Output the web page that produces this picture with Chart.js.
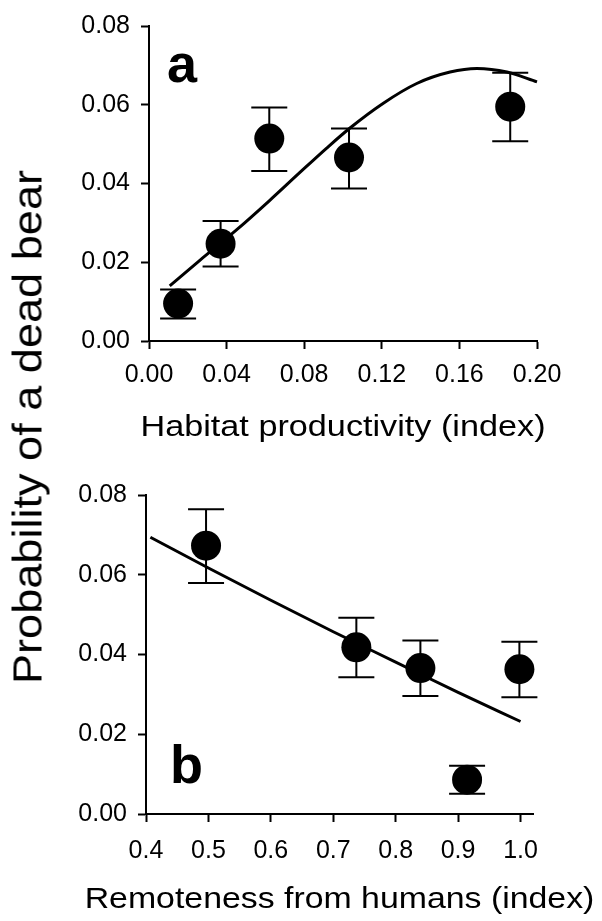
<!DOCTYPE html>
<html lang="en">
<head>
  <meta charset="UTF-8">
  <title>Probability of a dead bear</title>
  <script src="https://cdn.jsdelivr.net/npm/chart.js"></script>
  <style>
    body { margin: 0; background: #fff; font-family: "Liberation Sans", Arial, sans-serif; }
    #wrap { position: relative; width: 602px; height: 921px; overflow: hidden; }
    canvas { position: absolute; left: 0; }
    #chartA { top: 0; }
    #chartB { top: 460px; }
    #ytitle {
      position: absolute; left: 28px; top: 427px;
      font-size: 41px; line-height: 1; white-space: nowrap; color: #000;
      transform: translate(-50%, -50%) rotate(-90deg) scaleX(1.1);
    }
  </style>
</head>
<body>
<div id="wrap">
  <canvas id="chartA" width="602" height="460"></canvas>
  <canvas id="chartB" width="602" height="461"></canvas>
  <div id="ytitle">Probability of a dead bear</div>
</div>

<script>
// panel a: habitat productivity
const prodX  = [0.0150, 0.0369, 0.0620, 0.1031, 0.1862];
const prodY  = [0.0095, 0.0247, 0.0514, 0.0466, 0.0595];
const prodHi = [0.0131, 0.0305, 0.0593, 0.0540, 0.0681];
const prodLo = [0.0057, 0.0189, 0.0432, 0.0387, 0.0507];
const prodFitX = [0.0107, 0.0262, 0.0451, 0.0620, 0.0778, 0.0916, 0.1036, 0.1208, 0.1380, 0.1552, 0.1690, 0.1845, 0.2000];
const prodFitY = [0.0140, 0.0205, 0.0282, 0.0356, 0.0428, 0.0490, 0.0541, 0.0604, 0.0654, 0.0683, 0.0692, 0.0683, 0.0658];
const prodTicks = [0, 0.04, 0.08, 0.12, 0.16, 0.20];

// panel b: remoteness from humans
const remX  = [0.4962, 0.7370, 0.8396, 0.9144, 0.9982];
const remY  = [0.0673, 0.0418, 0.0366, 0.0086, 0.0363];
const remHi = [0.0764, 0.0492, 0.0435, 0.0121, 0.0432];
const remLo = [0.0579, 0.0343, 0.0296, 0.0051, 0.0293];
const remFitX = [0.407, 0.500, 0.600, 0.700, 0.800, 0.900, 1.000];
const remFitY = [0.0694, 0.0617, 0.0536, 0.0457, 0.0381, 0.0305, 0.0232];
const remTicks = [0.4, 0.5, 0.6, 0.7, 0.8, 0.9, 1.0];

const probTicks = [0, 0.02, 0.04, 0.06, 0.08];

const FONT = '"Liberation Sans", Arial, sans-serif';

function axis(min, max, ticks, digits, size, pad) {
  return {
    type: 'linear', min: min, max: max,
    afterBuildTicks: s => { s.ticks = ticks.map(v => ({ value: v })); },
    afterFit: s => { if (s.isHorizontal()) s.height = size; else s.width = size; },
    ticks: {
      color: '#000', padding: pad, autoSkip: false, maxRotation: 0,
      font: { family: FONT, size: 25 },
      callback: v => Number(v).toFixed(digits)
    },
    grid: { drawOnChartArea: false, drawTicks: true, tickLength: 8, tickWidth: 2, tickColor: '#000' },
    border: { display: true, color: '#000', width: 2 }
  };
}

function drawPanel(id, p) {
  const extras = {
    id: 'extras',
    beforeDatasetsDraw(chart) {
      const ctx = chart.ctx, xs = chart.scales.x, ys = chart.scales.y;
      ctx.save();
      ctx.strokeStyle = '#000';
      ctx.lineWidth = 2;
      p.x.forEach((v, i) => {
        const px = xs.getPixelForValue(v);
        const top = ys.getPixelForValue(p.hi[i]);
        const bot = ys.getPixelForValue(p.lo[i]);
        ctx.beginPath();
        ctx.moveTo(px, top); ctx.lineTo(px, bot);
        ctx.moveTo(px - 18, top); ctx.lineTo(px + 18, top);
        ctx.moveTo(px - 18, bot); ctx.lineTo(px + 18, bot);
        ctx.stroke();
      });
      ctx.restore();
    },
    afterDraw(chart) {
      const ctx = chart.ctx, a = chart.chartArea;
      ctx.save();
      ctx.fillStyle = '#000';
      ctx.font = 'bold 54px ' + FONT;
      ctx.fillText(p.letter, a.left + p.letterPos[0], a.top + p.letterPos[1]);
      ctx.font = '29px ' + FONT;
      ctx.textAlign = 'center';
      ctx.translate((a.left + a.right) / 2, p.titleY);
      ctx.scale(p.stretch, 1);
      ctx.fillText(p.title, 0, 0);
      ctx.restore();
    }
  };

  new Chart(document.getElementById(id), {
    type: 'scatter',
    data: {
      datasets: [
        {
          data: p.x.map((v, i) => ({ x: v, y: p.y[i] })),
          pointRadius: 15, pointHoverRadius: 15,
          backgroundColor: '#000', borderColor: '#000', borderWidth: 0,
          order: 1
        },
        {
          data: p.fitX.map((v, i) => ({ x: v, y: p.fitY[i] })),
          showLine: true, pointRadius: 0, borderColor: '#000', borderWidth: 3,
          cubicInterpolationMode: 'monotone',
          order: 2
        }
      ]
    },
    options: {
      responsive: false, animation: false, clip: false, events: [],
      layout: { padding: p.pad },
      plugins: { legend: { display: false }, tooltip: { enabled: false } },
      scales: {
        x: axis(p.xMin, p.xMax, p.xTicks, p.xDigits, 60, p.xPad),
        y: axis(0, 0.08, probTicks, 2, p.yWidth, 11)
      }
    },
    plugins: [extras]
  });
}

drawPanel('chartA', {
  x: prodX, y: prodY, hi: prodHi, lo: prodLo, fitX: prodFitX, fitY: prodFitY,
  xMin: 0, xMax: 0.20, xTicks: prodTicks, xDigits: 2, xPad: 11,
  yWidth: 149, pad: { left: 0, top: 22, right: 65, bottom: 59 },
  letter: 'a', letterPos: [18, 56],
  title: 'Habitat productivity (index)', titleY: 436, stretch: 1.18
});

drawPanel('chartB', {
  x: remX, y: remY, hi: remHi, lo: remLo, fitX: remFitX, fitY: remFitY,
  xMin: 0.4, xMax: 1.02, xTicks: remTicks, xDigits: 1, xPad: 14,
  yWidth: 146, pad: { left: 0, top: 35, right: 69, bottom: 47 },
  letter: 'b', letterPos: [24, 288],
  title: 'Remoteness from humans (index)', titleY: 448, stretch: 1.167
});
</script>
</body>
</html>
